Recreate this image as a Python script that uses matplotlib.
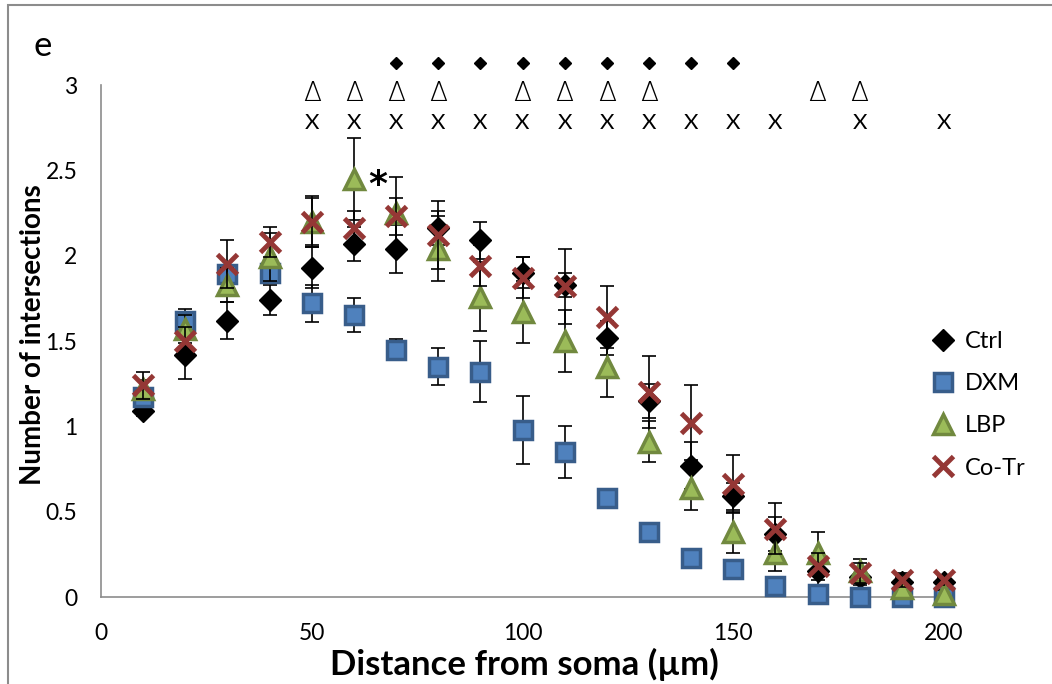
import matplotlib.pyplot as plt
from matplotlib.lines import Line2D
from matplotlib.patches import Rectangle

plt.rcParams['font.family'] = ['Lato', 'DejaVu Sans']

distance = [10, 20, 30, 40, 50, 60, 70, 80, 90, 100,
            110, 120, 130, 140, 150, 160, 170, 180, 190, 200]

ctrl = [1.09, 1.42, 1.62, 1.74, 1.93, 2.07, 2.04, 2.16, 2.09, 1.90,
        1.83, 1.52, 1.15, 0.77, 0.59, 0.37, 0.15, 0.12, 0.09, 0.09]
ctrl_err = [0.03, 0.14, 0.11, 0.09, 0.12, 0.10, 0.14, 0.10, 0.11, 0.09,
            0.07, 0.10, 0.10, 0.14, 0.08, 0.10, 0.08, 0.05, 0.03, 0.03]

dxm = [1.17, 1.62, 1.89, 1.90, 1.72, 1.65, 1.45, 1.35, 1.32, 0.98,
       0.85, 0.58, 0.38, 0.23, 0.165, 0.065, 0.02, 0.0, 0.0, 0.0]
dxm_err = [0.03, 0.07, 0.05, 0.05, 0.11, 0.10, 0.06, 0.11, 0.18, 0.20,
           0.15, 0.03, 0.02, 0.02, 0.02, 0.01, 0.01, 0.01, 0.01, 0.01]

lbp = [1.22, 1.57, 1.83, 1.99, 2.20, 2.45, 2.25, 2.04, 1.76, 1.67,
       1.50, 1.35, 0.91, 0.64, 0.38, 0.26, 0.26, 0.15, 0.05, 0.02]
lbp_err = [0.05, 0.08, 0.10, 0.14, 0.15, 0.24, 0.21, 0.19, 0.20, 0.18,
           0.18, 0.18, 0.12, 0.13, 0.12, 0.11, 0.12, 0.07, 0.03, 0.02]

cotr = [1.24, 1.50, 1.95, 2.08, 2.20, 2.16, 2.23, 2.12, 1.94, 1.87,
        1.82, 1.64, 1.20, 1.02, 0.66, 0.40, 0.18, 0.14, 0.10, 0.10]
cotr_err = [0.08, 0.08, 0.14, 0.09, 0.14, 0.10, 0.11, 0.20, 0.12, 0.12,
            0.22, 0.18, 0.21, 0.22, 0.17, 0.15, 0.08, 0.06, 0.04, 0.03]

# significance marks above the data
sig_ctrl_x = [70, 80, 90, 100, 110, 120, 130, 140, 150]
sig_lbp_x = [50, 60, 70, 80, 100, 110, 120, 130, 170, 180]
sig_cotr_x = [50, 60, 70, 80, 90, 100, 110, 120, 130, 140, 150, 160, 180, 200]

fig = plt.figure(figsize=(10.52, 6.84), dpi=100)
ax = fig.add_axes([101 / 1052, 87 / 684, 843 / 1052, 512 / 684])

styles = [
    ("Ctrl", ctrl, ctrl_err, dict(marker="D", markersize=11, color="black",
                                  markeredgecolor="black", markeredgewidth=1)),
    ("DXM", dxm, dxm_err, dict(marker="s", markersize=13, color="#4f81bd",
                               markeredgecolor="#385d8a", markeredgewidth=2.5)),
    ("LBP", lbp, lbp_err, dict(marker="^", markersize=14, color="#9bbb59",
                               markeredgecolor="#71893f", markeredgewidth=2.5)),
    ("Co-Tr", cotr, cotr_err, dict(marker="x", markersize=14, color="#953735",
                                   markeredgecolor="#953735", markeredgewidth=3.5)),
]

handles = []
for i, (name, vals, errs, st) in enumerate(styles):
    ax.errorbar(distance, vals, yerr=errs, fmt="none", ecolor="black",
                elinewidth=1.2, capsize=4.7, capthick=1.2, zorder=2 + 2 * i)
    ax.plot(distance, vals, linestyle="none", zorder=3 + 2 * i, clip_on=False, **st)
    handles.append(Line2D([], [], linestyle="none", label=name, **st))

ax.set_xlim(0, 200)
ax.set_ylim(0, 3)
ax.set_xticks([0, 50, 100, 150, 200])
ax.set_yticks([0, 0.5, 1, 1.5, 2, 2.5, 3])
ax.set_yticklabels(["0", "0.5", "1", "1.5", "2", "2.5", "3"])
ax.tick_params(axis="both", length=0, labelsize=16.5)
ax.tick_params(axis="y", pad=17)
ax.tick_params(axis="x", pad=19)
for side in ("top", "right"):
    ax.spines[side].set_visible(False)
for side in ("left", "bottom"):
    ax.spines[side].set_color("#8c8c8c")
    ax.spines[side].set_linewidth(1.2)

# significance rows
ax.plot(sig_ctrl_x, [3.13] * len(sig_ctrl_x), linestyle="none", marker="D",
        markersize=6.5, color="black", clip_on=False)
for xv in sig_lbp_x:
    ax.text(xv, 2.95, "\u0394", ha="center", va="center", fontsize=19,
            family=["DejaVu Sans"], fontweight="light", clip_on=False)
for xv in sig_cotr_x:
    ax.text(xv, 2.78, "X", ha="center", va="center", fontsize=16, clip_on=False)
ax.text(65.7, 2.355, "*", ha="center", va="baseline", fontsize=26,
        fontweight="bold", family=["DejaVu Sans"])

fig.text(43 / 1052, 1 - 46 / 684, "e", ha="center", va="center", fontsize=25)
fig.text(33 / 1052, 1 - 335 / 684, "Number of intersections", rotation=90,
         ha="center", va="center", fontsize=20, fontweight="bold")
fig.text(524 / 1052, 1 - 664 / 684, "Distance from soma (\u00b5m)",
         ha="center", va="center", fontsize=25, fontweight="bold")

fig.legend(handles=handles, loc="upper left", bbox_to_anchor=(931 / 1052, 1 - 331 / 684),
           frameon=False, fontsize=17, handlelength=1.0, handletextpad=0.45,
           labelspacing=0.9, borderpad=0, borderaxespad=0)

fig.add_artist(Rectangle((8 / 1052, -0.02), 1.0, 1 - 5 / 684 + 0.02,
                         transform=fig.transFigure, fill=False,
                         edgecolor="#8c8c8c", linewidth=1.5))

fig.savefig("out.png", dpi=100)
